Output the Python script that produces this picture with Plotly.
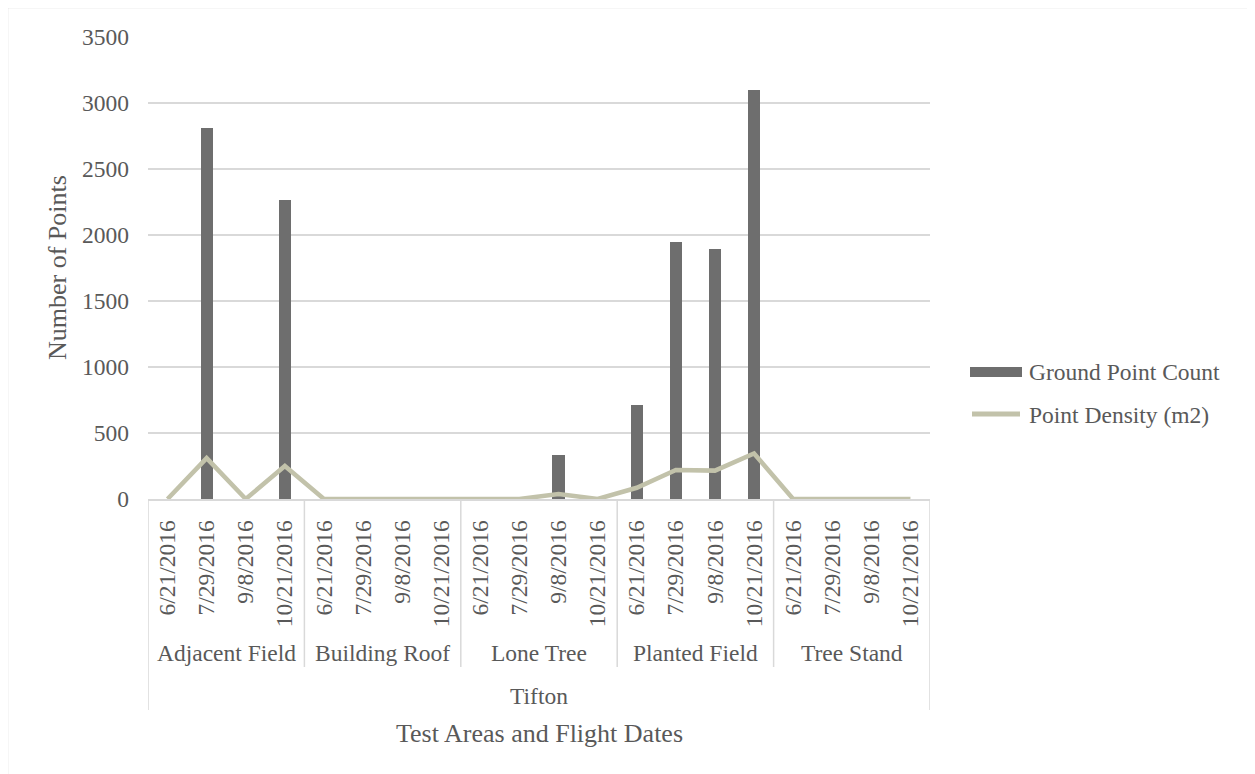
import plotly.graph_objects as go

# ---- data ----
areas = ["Adjacent Field", "Building Roof", "Lone Tree", "Planted Field", "Tree Stand"]
dates = ["6/21/2016", "7/29/2016", "9/8/2016", "10/21/2016"]
site = "Tifton"
ground_point_count = [0, 2810, 0, 2265,
                      0, 0, 0, 0,
                      0, 0, 335, 0,
                      712, 1950, 1895, 3100,
                      0, 0, 0, 0]
point_density = [0, 310, 0, 250,
                 0, 0, 0, 0,
                 0, 0, 38, 0,
                 85, 220, 215, 345,
                 0, 0, 0, 0]
y_ticks = [0, 500, 1000, 1500, 2000, 2500, 3000, 3500]

# ---- layout geometry (page pixels; page body has 8px margin) ----
OFF = 8
W, H = 1255 - OFF, 774 - OFF
L, R, T, B = 148, 930, 37, 499
PW, PH = R - L, B - T

def px(xp):
    return (xp - L) / PW

def py(yp):
    return (B - yp) / PH

FONT = "Liberation Serif, Times New Roman, serif"
TXT = "#595959"
BAR = "#6e6e6e"
LINE = "#c2c2aa"
GRID = "#d9d9d9"
TICK_SIZE = 23.5
TITLE_SIZE = 26

n = len(areas) * len(dates)
xs = list(range(n))
tick_text = [d for _ in areas for d in dates]

fig = go.Figure()
fig.add_trace(go.Bar(x=xs, y=ground_point_count, name="Ground Point Count",
                     marker=dict(color=BAR, line=dict(width=0)), width=0.31,
                     showlegend=False))
fig.add_trace(go.Scatter(x=xs, y=point_density, name="Point Density (m2)",
                         mode="lines", line=dict(color=LINE, width=4.5),
                         showlegend=False))

shapes = []
annotations = []
nd = len(dates)
# group dividers
for k in range(1, len(areas)):
    shapes.append(dict(type="line", xref="x", yref="paper",
                       x0=k * nd - 0.5, x1=k * nd - 0.5, y0=0, y1=py(667),
                       line=dict(color=GRID, width=1.5)))
# outer lines
for xv in (-0.5, n - 0.5):
    shapes.append(dict(type="line", xref="x", yref="paper",
                       x0=xv, x1=xv, y0=0, y1=py(710),
                       line=dict(color=GRID, width=1.5)))
# group labels
for k, a in enumerate(areas):
    annotations.append(dict(text=a, xref="x", yref="paper",
                            x=k * nd + (nd - 1) / 2, y=py(653),
                            xanchor="center", yanchor="middle", showarrow=False,
                            font=dict(family=FONT, size=TICK_SIZE, color=TXT)))
annotations.append(dict(text=site, xref="x", yref="paper", x=(n - 1) / 2, y=py(696),
                        xanchor="center", yanchor="middle", showarrow=False,
                        font=dict(family=FONT, size=TICK_SIZE, color=TXT)))
annotations.append(dict(text="Test Areas and Flight Dates", xref="x", yref="paper",
                        x=(n - 1) / 2, y=py(733), xanchor="center", yanchor="middle",
                        showarrow=False,
                        font=dict(family=FONT, size=TITLE_SIZE, color=TXT)))
annotations.append(dict(text="Number of Points", xref="paper", yref="paper",
                        x=px(57), y=py(268), xanchor="center", yanchor="middle",
                        textangle=-90, showarrow=False,
                        font=dict(family=FONT, size=TITLE_SIZE, color=TXT)))
# legend (manual)
shapes.append(dict(type="rect", xref="paper", yref="paper",
                   x0=px(970), x1=px(1022), y0=py(377), y1=py(367),
                   fillcolor=BAR, line=dict(width=0)))
shapes.append(dict(type="line", xref="paper", yref="paper",
                   x0=px(972), x1=px(1020), y0=py(414), y1=py(414),
                   line=dict(color=LINE, width=5)))
annotations.append(dict(text="Ground Point Count", xref="paper", yref="paper",
                        x=px(1027), y=py(372), xanchor="left", yanchor="middle",
                        showarrow=False,
                        font=dict(family=FONT, size=TICK_SIZE, color=TXT)))
annotations.append(dict(text="Point Density (m2)", xref="paper", yref="paper",
                        x=px(1027), y=py(415), xanchor="left", yanchor="middle",
                        showarrow=False,
                        font=dict(family=FONT, size=TICK_SIZE, color=TXT)))
# chart border
shapes.append(dict(type="rect", xref="paper", yref="paper",
                   x0=px(7.5), x1=px(1253.5), y0=py(800), y1=py(7.5),
                   line=dict(color=GRID, width=1.5), fillcolor="rgba(0,0,0,0)"))

fig.update_layout(
    width=W, height=H,
    margin=dict(l=L - OFF, r=(1255 - R), t=T - OFF, b=(774 - B), pad=0),
    paper_bgcolor="white", plot_bgcolor="white",
    font=dict(family=FONT, size=TICK_SIZE, color=TXT),
    bargap=0, showlegend=False,
    shapes=shapes, annotations=annotations,
    xaxis=dict(range=[-0.5, n - 0.5], tickmode="array", tickvals=xs, ticktext=tick_text,
               tickangle=-90, showgrid=False, zeroline=False, showline=True,
               linecolor=GRID, linewidth=1.5, ticks="", ticklabelstandoff=10,
               tickfont=dict(family=FONT, size=TICK_SIZE, color=TXT), fixedrange=True),
    yaxis=dict(range=[0, 3500], tickmode="array", tickvals=y_ticks,
               showgrid=True, gridcolor=GRID, gridwidth=1.5, zeroline=False,
               showline=False, ticks="", ticklabelstandoff=18,
               tickfont=dict(family=FONT, size=TICK_SIZE, color=TXT), fixedrange=True),
)

fig.write_html("out.html")
